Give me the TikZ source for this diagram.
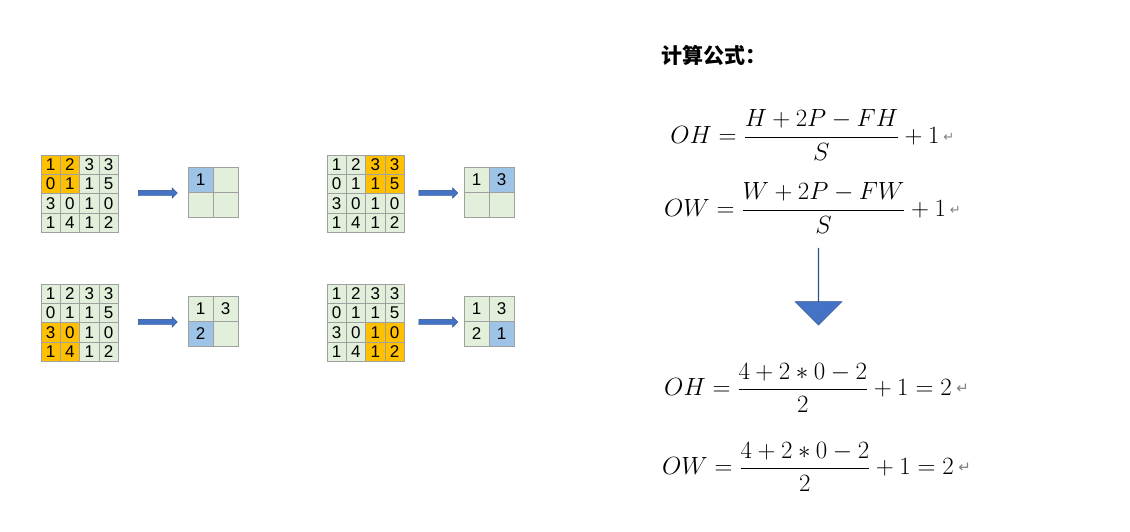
\documentclass[tikz,border=0pt]{standalone}
\usepackage{amsmath}
\usepackage{fontspec}
\setmainfont{Liberation Sans}
\newfontfamily\cjk{Noto Sans CJK SC}
\newfontfamily\dvs{DejaVu Sans}
\usetikzlibrary{shapes.arrows}
\definecolor{org}{HTML}{FFC000}
\definecolor{grn}{HTML}{E2EFDA}
\definecolor{blu}{HTML}{9DC3E6}
\definecolor{bdr}{HTML}{A0A0A0}
\definecolor{arr}{HTML}{4472C4}
\tikzset{
 cell/.style={draw=bdr,line width=0.8pt,minimum size=19.3pt,inner sep=0pt,font=\fontsize{17}{17}\selectfont,text height=12pt,text depth=0pt},
 ocell/.style={draw=bdr,line width=0.8pt,minimum size=25pt,inner sep=0pt,font=\fontsize{17}{17}\selectfont,text height=12pt,text depth=0pt},
 rarrow/.style={single arrow,fill=arr,draw=arr!70!black,line width=0.4pt,minimum height=39pt,minimum width=10pt,single arrow head extend=2.5pt,inner xsep=0pt,inner ysep=2.5pt},
}
\newcommand{\grid}[5]{% x y name hlrow hlcol
 \foreach \r/\row in {0/{1,2,3,3},1/{0,1,1,5},2/{3,0,1,0},3/{1,4,1,2}}{
  \foreach \v [count=\c from 0] in \row {
   \pgfmathtruncatemacro{\hl}{(\r>=#4)&&(\r<=#4+1)&&(\c>=#5)&&(\c<=#5+1)}
   \ifnum\hl=1 \def\fc{org}\else\def\fc{grn}\fi
   \node[cell,fill=\fc] (#3-\r-\c) at ({#1+9.65+19.3*\c},{#2+9.65+19.3*\r}) {\v};
  }}}
\newcommand{\retmark}[1]{\rlap{\,\raisebox{2pt}{\dvs\color{gray}\fontsize{#1}{#1}\selectfont ↵}}}
\begin{document}
\begin{tikzpicture}[x=1pt,y=-1pt]
\useasboundingbox (0,0) rectangle (1130,531);
\grid{41}{155}{g1}{0}{0}
\grid{327}{155}{g2}{0}{2}
\grid{41}{284}{g3}{2}{0}
\grid{327}{284}{g4}{2}{2}
\node[ocell,fill=blu] (o1a) at (200.5,179.5) {1};
\node[ocell,fill=grn] (o1b) at (225.5,179.5) {};
\node[ocell,fill=grn] (o1c) at (200.5,204.5) {};
\node[ocell,fill=grn] (o1d) at (225.5,204.5) {};
\node[ocell,fill=grn] (o2a) at (476.5,179.5) {1};
\node[ocell,fill=blu] (o2b) at (501.5,179.5) {3};
\node[ocell,fill=grn] (o2c) at (476.5,204.5) {};
\node[ocell,fill=grn] (o2d) at (501.5,204.5) {};
\node[ocell,fill=grn] (o3a) at (200.5,308.5) {1};
\node[ocell,fill=grn] (o3b) at (225.5,308.5) {3};
\node[ocell,fill=blu] (o3c) at (200.5,333.5) {2};
\node[ocell,fill=grn] (o3d) at (225.5,333.5) {};
\node[ocell,fill=grn] (o4a) at (476.5,308.5) {1};
\node[ocell,fill=grn] (o4b) at (501.5,308.5) {3};
\node[ocell,fill=grn] (o4c) at (476.5,333.5) {2};
\node[ocell,fill=blu] (o4d) at (501.5,333.5) {1};
\node[rarrow] (a1) at (156.5,193) {};
\node[rarrow] (a2) at (437,193) {};
\node[rarrow] (a3) at (156.5,322) {};
\node[rarrow] (a4) at (437,322) {};
\node[anchor=west,font=\cjk\bfseries\fontsize{21}{21}\selectfont] (title) at (658,55) {计算公式：};
\node[font=\fontsize{23}{23}\selectfont] (f1) at (805,135) {$OH=\dfrac{H+2P-FH}{S}+1$\retmark{13}};
\node[font=\fontsize{23}{23}\selectfont] (f2) at (805,208) {$OW=\dfrac{W+2P-FW}{S}+1$\retmark{13}};
\node[single arrow,shape border rotate=270,fill=arr,draw=arr!70!black,minimum height=77pt,minimum width=47pt,single arrow head extend=12pt,inner xsep=0pt,inner ysep=11.5pt] (down) at (818.5,286.5) {};
\node[font=\fontsize{27}{27}\selectfont] (f3) at (808,388) {$OH=\dfrac{4+2*0-2}{2}+1=2$\retmark{15}};
\node[font=\fontsize{27}{27}\selectfont] (f4) at (808,467) {$OW=\dfrac{4+2*0-2}{2}+1=2$\retmark{15}};
\end{tikzpicture}
\end{document}
